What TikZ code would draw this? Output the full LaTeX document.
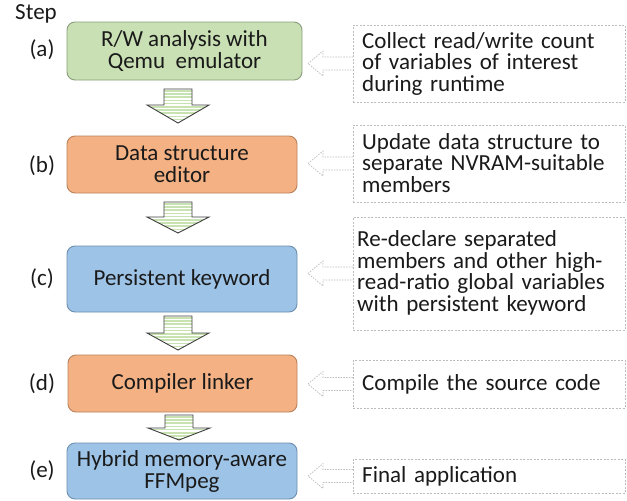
\documentclass[tikz,border=0pt]{standalone}
\usepackage{fontspec}
\setmainfont{Carlito}
\definecolor{gfill}{HTML}{C9E0B4}
\definecolor{gdraw}{HTML}{8A9C7A}
\definecolor{ofill}{HTML}{F4B183}
\definecolor{odraw}{HTML}{B9835C}
\definecolor{bfill}{HTML}{9DC3E6}
\definecolor{bdraw}{HTML}{6E8FAE}
\definecolor{stripe}{HTML}{C8E2B2}
\definecolor{dgray}{HTML}{BDBDBD}
\definecolor{txt}{HTML}{1A1A1A}
\tikzset{
  stepbox/.style={rounded corners=8pt, line width=0.9pt, align=center, text=txt,
    font=\fontsize{23}{22}\selectfont, inner sep=0pt},
  descbox/.style={draw=dgray, dashed, dash pattern=on 2pt off 1.5pt, line width=0.7pt,
    minimum width=272pt, text width=263pt, align=left, inner xsep=0pt, inner ysep=0pt, text=txt,
    font=\fontsize{23}{21.5}\selectfont},
  desctext/.style={text width=263pt, align=left, inner sep=0pt, text=txt,
    font=\fontsize{23}{21.5}\selectfont, anchor=west},
  steplabel/.style={text=txt, font=\fontsize{23}{22}\selectfont, inner sep=0pt},
  arrowline/.style={draw=black!75, line width=0.9pt, line join=miter},
  leftarrow/.style={draw=dgray, dash pattern=on 1.5pt off 1.2pt, line width=0.7pt},
}
\newcommand{\blkdown}[4]{%
  \begin{scope}
    \clip (#1-14,#2) -- (#1+14,#2) -- (#1+14,#3) -- (#1+31,#3) -- (#1,#4) -- (#1-31,#3) -- (#1-14,#3) -- cycle;
    \fill[white] (#1-32,#2) rectangle (#1+32,#4);
    \foreach \k in {0,...,12} {\fill[stripe] (#1-32,#2+\k*3.2+1) rectangle (#1+32,#2+\k*3.2+2.6);}
  \end{scope}
  \draw[arrowline] (#1-14,#2) -- (#1+14,#2) -- (#1+14,#3) -- (#1+31,#3) -- (#1,#4) -- (#1-31,#3) -- (#1-14,#3) -- cycle;}
\newcommand{\blkleft}[1]{%
  \draw[leftarrow] (353,#1-6.5) -- (323,#1-6.5) -- (323,#1-12.5) -- (308,#1) -- (323,#1+12.5) -- (323,#1+6.5) -- (353,#1+6.5);}
\begin{document}
\begin{tikzpicture}[x=1pt,y=-1pt]
\useasboundingbox[fill=white] (0,0) rectangle (627,501);
% step labels
\node[steplabel] (step) at (36,14) {Step};
\node[steplabel] (la) at (42,50) {(a)};
\node[steplabel] (lb) at (42,166) {(b)};
\node[steplabel] (lc) at (42,279) {(c)};
\node[steplabel] (ld) at (42,384) {(d)};
\node[steplabel] (le) at (42,471) {(e)};
% step boxes
\node[stepbox, fill=gfill, draw=gdraw, minimum width=235pt, minimum height=58pt] (a) at (184.5,51) {R/W analysis with\\Qemu\ \ emulator};
\node[stepbox, fill=ofill, draw=odraw, minimum width=230pt, minimum height=57pt] (b) at (182,164.5) {Data structure\\editor};
\node[stepbox, fill=bfill, draw=bdraw, minimum width=230pt, minimum height=66pt] (c) at (182,279) {Persistent keyword};
\node[stepbox, fill=ofill, draw=odraw, minimum width=229pt, minimum height=57pt] (d) at (182.5,383.5) {Compiler linker};
\node[stepbox, fill=bfill, draw=bdraw, minimum width=230pt, minimum height=56pt] (e) at (182,471) {Hybrid memory-aware\\FFMpeg};
% down arrows
\blkdown{178}{89}{105}{123}
\blkdown{178}{202}{217}{233}
\blkdown{178}{316}{333}{350}
\blkdown{179}{415}{428}{440}
% description boxes
\node[descbox, minimum height=77pt] (da) at (489,63.5) {};
\node[desctext] (ta) at (362,63.5) {Collect read/write count\\of variables of interest\\during runtime};
\node[descbox, minimum height=77pt] (db) at (489,163.5) {};
\node[desctext] (tb) at (362,163) {Update data structure to\\separate NVRAM-suitable\\members};
\node[descbox, minimum height=113pt] (dc) at (489,273.5) {};
\node[desctext] (tc) at (357,273) {Re-declare separated\\members and other high-\\read-ratio global variables\\with persistent keyword};
\node[descbox, minimum height=48pt] (dd) at (489,384) {};
\node[desctext] (td) at (362,384) {Compile the source code};
\node[descbox, minimum height=34pt] (de) at (489,476) {};
\node[desctext] (te) at (362,476) {Final application};
% left arrows
\blkleft{63.5}
\blkleft{163.5}
\blkleft{273.5}
\blkleft{384}
\blkleft{476}
\end{tikzpicture}
\end{document}
